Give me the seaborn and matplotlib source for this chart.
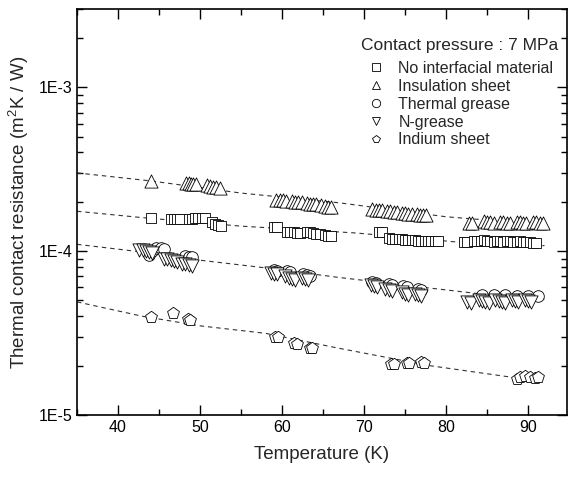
import matplotlib
matplotlib.use("Agg")
import matplotlib.pyplot as plt
import matplotlib.ticker as mticker
from matplotlib.lines import Line2D
import pandas as pd
import seaborn as sns


# ---- data -------------------------------------------------------------------
# No interfacial material (squares)
T_NONE = [44.0, 46.4, 46.8, 47.2, 47.6, 48.6, 49.0, 49.4, 49.8, 50.2, 50.6,
          51.4, 51.8, 52.2, 52.6, 59.0, 59.4, 60.6, 61.0, 61.4, 61.8, 62.2,
          63.0, 63.4, 63.8, 64.2, 64.6, 65.2, 65.6, 66.0, 71.8, 72.2, 73.0,
          73.4, 73.8, 74.2, 74.6, 75.0, 75.4, 75.8, 76.2, 76.6, 77.0, 77.4,
          77.8, 78.2, 78.6, 79.0, 82.2, 82.6, 83.4, 83.8, 84.2, 84.6, 85.0,
          85.4, 85.8, 86.2, 86.6, 87.0, 87.4, 87.8, 88.2, 88.6, 89.0, 89.4,
          89.8, 90.2, 90.6, 91.0]
R_NONE = [1.60e-4, 1.58e-4, 1.58e-4, 1.57e-4, 1.57e-4, 1.58e-4, 1.58e-4,
          1.59e-4, 1.59e-4, 1.60e-4, 1.59e-4, 1.50e-4, 1.47e-4, 1.44e-4,
          1.42e-4, 1.41e-4, 1.40e-4, 1.31e-4, 1.30e-4, 1.30e-4, 1.29e-4,
          1.29e-4, 1.31e-4, 1.30e-4, 1.29e-4, 1.28e-4, 1.27e-4, 1.25e-4,
          1.24e-4, 1.24e-4, 1.31e-4, 1.30e-4, 1.20e-4, 1.19e-4, 1.18e-4,
          1.18e-4, 1.18e-4, 1.17e-4, 1.17e-4, 1.17e-4, 1.17e-4, 1.16e-4,
          1.16e-4, 1.16e-4, 1.16e-4, 1.16e-4, 1.15e-4, 1.15e-4, 1.13e-4,
          1.13e-4, 1.16e-4, 1.15e-4, 1.15e-4, 1.17e-4, 1.16e-4, 1.15e-4,
          1.14e-4, 1.16e-4, 1.15e-4, 1.14e-4, 1.16e-4, 1.15e-4, 1.14e-4,
          1.13e-4, 1.15e-4, 1.14e-4, 1.13e-4, 1.13e-4, 1.12e-4, 1.12e-4]

# Insulation sheet (triangles up)
T_INSUL = [44.0, 48.3, 48.6, 48.9, 49.2, 49.5, 50.8, 51.2, 51.6, 52.0, 52.4,
           59.3, 59.7, 60.1, 60.5, 61.2, 61.6, 62.0, 62.4, 63.0, 63.4, 63.8,
           64.2, 64.8, 65.2, 65.6, 66.0, 71.0, 71.4, 71.8, 72.2, 72.8, 73.2,
           73.6, 74.0, 74.6, 75.0, 75.4, 75.8, 76.4, 76.8, 77.2, 77.6, 82.8,
           83.2, 84.6, 85.0, 85.4, 85.8, 86.6, 87.0, 87.4, 87.8, 88.6, 89.0,
           89.4, 89.8, 90.6, 91.0, 91.4, 91.8]
R_INSUL = [2.66e-4, 2.60e-4, 2.59e-4, 2.58e-4, 2.57e-4, 2.56e-4, 2.52e-4,
           2.50e-4, 2.47e-4, 2.45e-4, 2.42e-4, 2.06e-4, 2.05e-4, 2.04e-4,
           2.03e-4, 2.02e-4, 2.00e-4, 1.99e-4, 1.98e-4, 1.96e-4, 1.95e-4,
           1.94e-4, 1.93e-4, 1.90e-4, 1.88e-4, 1.87e-4, 1.85e-4, 1.80e-4,
           1.79e-4, 1.78e-4, 1.77e-4, 1.76e-4, 1.75e-4, 1.74e-4, 1.73e-4,
           1.71e-4, 1.70e-4, 1.69e-4, 1.68e-4, 1.68e-4, 1.67e-4, 1.66e-4,
           1.65e-4, 1.49e-4, 1.48e-4, 1.52e-4, 1.51e-4, 1.50e-4, 1.49e-4,
           1.51e-4, 1.50e-4, 1.49e-4, 1.48e-4, 1.51e-4, 1.50e-4, 1.49e-4,
           1.48e-4, 1.51e-4, 1.50e-4, 1.49e-4, 1.48e-4]

# Thermal grease (circles)
T_GREASE = [43.8, 44.2, 44.6, 45.2, 45.6, 48.2, 48.6, 49.0, 59.0, 59.4, 60.6,
            61.0, 62.6, 63.0, 63.4, 71.0, 71.4, 73.0, 73.4, 74.8, 75.2, 76.6,
            77.0, 84.4, 85.8, 87.2, 88.6, 90.0, 91.2]
R_GREASE = [0.95e-4, 1.00e-4, 1.05e-4, 1.04e-4, 1.03e-4, 0.93e-4, 0.92e-4,
            0.92e-4, 7.7e-5, 7.6e-5, 7.6e-5, 7.5e-5, 7.2e-5, 7.1e-5, 7.0e-5,
            6.5e-5, 6.4e-5, 6.3e-5, 6.2e-5, 6.1e-5, 6.0e-5, 5.9e-5, 5.8e-5,
            5.4e-5, 5.4e-5, 5.4e-5, 5.3e-5, 5.3e-5, 5.35e-5]

# N-grease (triangles down)
T_NGREASE = [42.6, 43.0, 43.4, 43.8, 44.2, 45.6, 46.0, 46.4, 46.8, 47.2, 47.8,
             48.2, 48.6, 49.0, 58.6, 59.0, 59.4, 60.4, 60.8, 61.2, 61.6, 62.4,
             62.8, 63.2, 70.8, 71.2, 71.6, 72.6, 73.0, 73.4, 74.6, 75.0, 75.4,
             76.2, 76.6, 77.0, 82.6, 83.0, 84.0, 84.4, 84.8, 85.2, 86.0, 86.4,
             86.8, 87.2, 88.0, 88.4, 88.8, 89.6, 90.0, 90.4]
R_NGREASE = [1.02e-4, 1.01e-4, 1.00e-4, 0.99e-4, 0.98e-4, 0.90e-4, 0.89e-4,
             0.88e-4, 0.87e-4, 0.86e-4, 0.84e-4, 0.83e-4, 0.82e-4, 0.81e-4,
             7.4e-5, 7.3e-5, 7.2e-5, 7.0e-5, 6.9e-5, 6.8e-5, 6.7e-5, 6.9e-5,
             6.8e-5, 6.7e-5, 6.2e-5, 6.1e-5, 6.0e-5, 5.9e-5, 5.8e-5, 5.7e-5,
             5.6e-5, 5.5e-5, 5.4e-5, 5.5e-5, 5.4e-5, 5.3e-5, 4.9e-5, 4.85e-5,
             5.0e-5, 4.95e-5, 4.9e-5, 4.85e-5, 5.0e-5, 4.95e-5, 4.9e-5, 4.85e-5,
             5.0e-5, 4.95e-5, 4.9e-5, 5.0e-5, 4.95e-5, 4.9e-5]

# Indium sheet (pentagons)
T_INDIUM = [44.0, 46.7, 48.5, 48.8, 59.2, 59.5, 61.4, 61.8, 63.4, 63.7, 73.3,
            73.6, 75.2, 75.5, 77.0, 77.3, 88.6, 89.0, 89.6, 90.2, 90.8, 91.2]
R_INDIUM = [3.95e-5, 4.2e-5, 3.85e-5, 3.8e-5, 3.0e-5, 2.98e-5, 2.75e-5,
            2.7e-5, 2.58e-5, 2.55e-5, 2.05e-5, 2.05e-5, 2.08e-5, 2.07e-5,
            2.1e-5, 2.08e-5, 1.65e-5, 1.7e-5, 1.72e-5, 1.7e-5, 1.68e-5, 1.7e-5]

# dashed fit lines, read at a few temperatures
FIT_INSUL_T = [35, 44, 55, 67, 80, 92]
FIT_INSUL_R = [3.0e-4, 2.68e-4, 2.26e-4, 1.97e-4, 1.62e-4, 1.45e-4]
FIT_NONE_T = [35, 43, 55, 69, 81, 92]
FIT_NONE_R = [1.75e-4, 1.6e-4, 1.42e-4, 1.29e-4, 1.14e-4, 1.08e-4]
FIT_MID_T = [35, 42, 50, 58, 67, 78, 84, 92]
FIT_MID_R = [1.1e-4, 1.0e-4, 0.88e-4, 0.79e-4, 6.9e-5, 5.95e-5, 5.5e-5, 5.1e-5]
FIT_LOW_T = [35, 43, 50, 58, 67, 78, 88]
FIT_LOW_R = [4.9e-5, 4.0e-5, 3.5e-5, 3.15e-5, 2.55e-5, 2.0e-5, 1.7e-5]

LABELS = ["No interfacial material", "Insulation sheet", "Thermal grease",
          "N-grease", "Indium sheet"]
MARKERS = {"No interfacial material": "s", "Insulation sheet": "^",
           "Thermal grease": "o", "N-grease": "v", "Indium sheet": "p"}
SIZES = {"No interfacial material": 55, "Insulation sheet": 90,
         "Thermal grease": 70, "N-grease": 90, "Indium sheet": 80}


def build_points():
    series = [
        (LABELS[4], T_INDIUM, R_INDIUM),
        (LABELS[2], T_GREASE, R_GREASE),
        (LABELS[3], T_NGREASE, R_NGREASE),
        (LABELS[0], T_NONE, R_NONE),
        (LABELS[1], T_INSUL, R_INSUL),
    ]
    frames = [pd.DataFrame({"T": t, "R": r, "material": name})
              for name, t, r in series]
    return pd.concat(frames, ignore_index=True)


def main():
    sns.set_style("ticks")
    plt.rcParams["font.family"] = ["Liberation Sans", "DejaVu Sans"]
    plt.rcParams["mathtext.fontset"] = "custom"
    plt.rcParams["mathtext.rm"] = "Liberation Sans"

    fig = plt.figure(figsize=(5.68, 4.79), dpi=100)
    ax = fig.add_axes([0.1356, 0.1336, 0.862, 0.8476])

    for t, r in [(FIT_INSUL_T, FIT_INSUL_R), (FIT_NONE_T, FIT_NONE_R),
                 (FIT_MID_T, FIT_MID_R), (FIT_LOW_T, FIT_LOW_R)]:
        sns.lineplot(x=t, y=r, ax=ax, color="#333333", linewidth=0.8,
                     linestyle=(0, (4, 3.5)), estimator=None, sort=False)

    points = build_points()
    for name, sub in points.groupby("material", sort=False):
        sns.scatterplot(data=sub, x="T", y="R", marker=MARKERS[name], ax=ax,
                        s=SIZES[name], facecolor="white", edgecolor="black",
                        linewidth=0.6, legend=False, zorder=3)

    ax.set_yscale("log")
    ax.set_xlim(35, 94.7)
    ax.set_ylim(1e-5, 3e-3)

    ax.xaxis.set_major_locator(mticker.MultipleLocator(10))
    ax.xaxis.set_minor_locator(mticker.MultipleLocator(5))
    ax.yaxis.set_major_locator(mticker.FixedLocator([1e-5, 1e-4, 1e-3]))
    ax.yaxis.set_major_formatter(mticker.FixedFormatter(["1E-5", "1E-4", "1E-3"]))
    ax.yaxis.set_minor_locator(mticker.LogLocator(base=10, subs=range(2, 10)))
    ax.yaxis.set_minor_formatter(mticker.NullFormatter())

    ax.tick_params(which="both", direction="in", top=True, right=True,
                   labelsize=11.5, width=1.0, colors="black")
    ax.tick_params(which="major", length=7)
    ax.tick_params(which="minor", length=4)
    for spine in ax.spines.values():
        spine.set_linewidth(1.2)
        spine.set_color("black")

    ax.set_xlabel("Temperature (K)", fontsize=13.5, labelpad=8)
    ax.set_ylabel("Thermal contact resistance (m$^2$K / W)", fontsize=13.5,
                  labelpad=5)

    handles = [Line2D([], [], linestyle="none", marker=MARKERS[name],
                      markersize=6, markerfacecolor="white",
                      markeredgecolor="black", markeredgewidth=0.6)
               for name in LABELS]
    leg = ax.legend(handles, LABELS, title="Contact pressure : 7 MPa",
                    loc="upper right", bbox_to_anchor=(1.013, 0.965),
                    frameon=False, fontsize=11.5, title_fontsize=12.5,
                    handletextpad=0.8, labelspacing=0.18, handlelength=1.2)
    leg._legend_box.sep = 6

    fig.savefig("out.png", dpi=100)
    plt.close(fig)


if __name__ == "__main__":
    main()
